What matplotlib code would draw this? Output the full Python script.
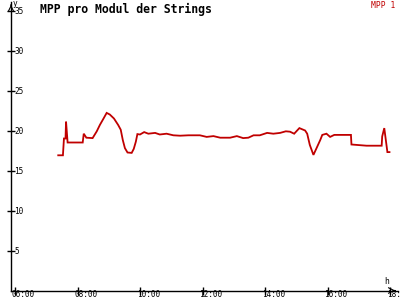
import matplotlib
matplotlib.use("Agg")
import matplotlib.pyplot as plt
from matplotlib.transforms import offset_copy

times = ["07:23", "07:32", "07:34", "07:37", "07:38", "07:41", "08:10", "08:12",
         "08:17", "08:29", "08:37", "08:43", "08:50", "08:56", "09:02", "09:10",
         "09:18", "09:23", "09:27", "09:31", "09:36", "09:44", "09:48", "09:52",
         "09:55", "10:00", "10:08", "10:16", "10:29", "10:38", "10:51", "11:04",
         "11:17", "11:33", "11:55", "12:08", "12:21", "12:34", "12:53", "13:06",
         "13:18", "13:28", "13:38", "13:50", "14:04", "14:16", "14:29", "14:40",
         "14:48", "14:56", "15:06", "15:17", "15:21", "15:26", "15:33", "15:39",
         "15:46", "15:50", "15:58", "16:05", "16:13", "16:45", "16:46", "17:15",
         "17:44", "17:45", "17:49", "17:52", "17:55", "17:59"]
mpp1 = [16.9, 16.9, 19.0, 19.0, 21.1, 18.5, 18.5, 19.6,
        19.1, 19.05, 19.9, 20.7, 21.5, 22.2, 22.0, 21.5,
        20.7, 20.1, 18.8, 17.8, 17.25, 17.2, 17.7, 18.6,
        19.55, 19.5, 19.8, 19.6, 19.7, 19.5, 19.6, 19.4,
        19.35, 19.4, 19.4, 19.2, 19.3, 19.1, 19.1, 19.3,
        19.05, 19.1, 19.4, 19.4, 19.7, 19.6, 19.7, 19.9,
        19.85, 19.6, 20.3, 20.0, 19.6, 18.2, 16.95, 17.8,
        18.8, 19.45, 19.6, 19.2, 19.45, 19.45, 18.25, 18.1,
        18.1, 19.25, 20.3, 18.8, 17.3, 17.3]

x_ticks = [6, 8, 10, 12, 14, 16, 18]
x_labels = ["06:00", "08:00", "10:00", "12:00", "14:00", "16:00", "18:"]
y_ticks = [5, 10, 15, 20, 25, 30, 35]
y_labels = ["5", "10", "15", "20", "25", "30", "35"]

title = "MPP pro Modul der Strings"
series_name = "MPP 1"
red = "#c00000"

hours = [int(t[:2]) + int(t[3:]) / 60 for t in times]

W, H = 400, 300
fig = plt.figure(figsize=(4, 3), dpi=100)
fig.patch.set_facecolor("white")
ax = fig.add_axes([11 / W, (H - 290.5) / H, (398 - 11) / W, (290.5 - 2) / H])
ax.set_facecolor("none")
ax.set_xlim(6 - 4 / 31.25, 6 + (398 - 15) / 31.25)
ax.set_ylim(0, 288.5 / 8)

ax.plot(hours, mpp1, color=red, lw=1.3, solid_joinstyle="miter")

for s in ["top", "right"]:
    ax.spines[s].set_visible(False)
for s in ["left", "bottom"]:
    ax.spines[s].set_linewidth(1.0)
    ax.spines[s].set_color("black")

# arrow heads
ax.annotate("", xy=(1.0, 0), xycoords="axes fraction", xytext=(0.985, 0),
            arrowprops=dict(arrowstyle="->", color="black", lw=0.8))
ax.annotate("", xy=(0, 1.0), xycoords="axes fraction", xytext=(0, 0.98),
            arrowprops=dict(arrowstyle="->", color="black", lw=0.8))

mono = "DejaVu Sans Mono"
ax.set_xticks(x_ticks)
ax.set_xticklabels(x_labels, fontsize=5.6, family=mono)
ax.set_yticks(y_ticks)
ax.set_yticklabels(y_labels, fontsize=5.6, family=mono)
ax.tick_params(axis="both", direction="inout", length=6, width=1.0, colors="black")
ax.tick_params(axis="y", pad=-5.5)
ax.tick_params(axis="x", pad=0)
for lab in ax.get_yticklabels():
    lab.set_ha("left")
for lab in ax.get_xticklabels():
    lab.set_ha("left")
    lab.set_transform(offset_copy(lab.get_transform(), fig=fig, x=-3, y=5, units="dots"))

fig.text(40 / W, 1 - 9 / H, title, fontsize=8.3, fontweight="bold", family=mono,
         ha="left", va="center", color="black")
fig.text(395 / W, 1 - 1 / H, series_name, fontsize=5.8, family=mono,
         ha="right", va="top", color=red)
fig.text(387 / W, 1 - 282 / H, "h", fontsize=5.8, family=mono, ha="center", va="center")
fig.text(15 / W, 1 - 4 / H, "y", fontsize=5.6, family=mono, ha="center", va="center")

fig.savefig("out.png", dpi=100, facecolor="white")
